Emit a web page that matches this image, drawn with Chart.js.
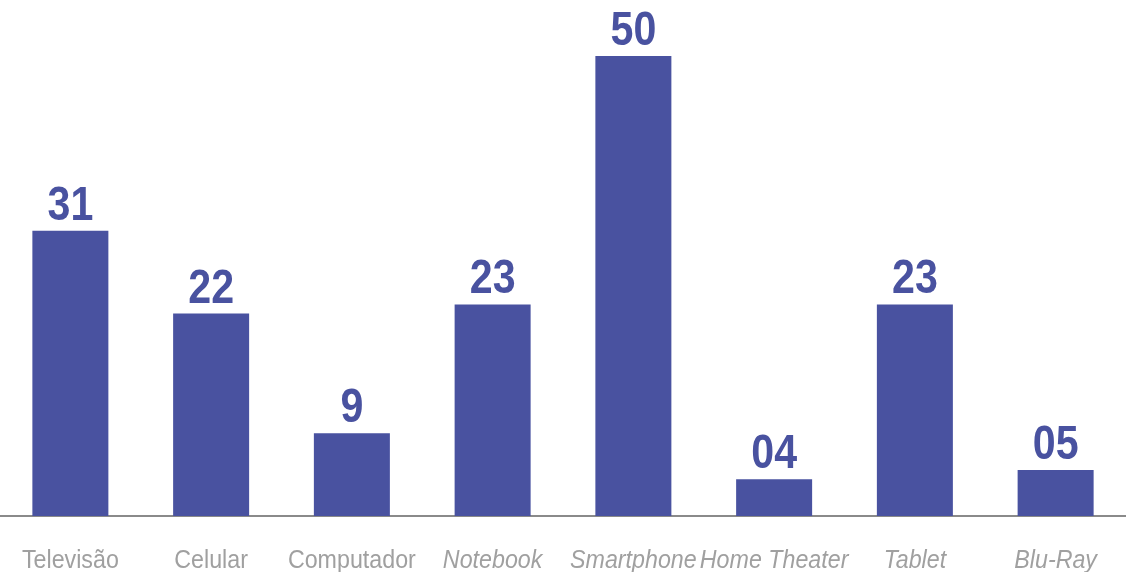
<!DOCTYPE html>
<html>
<head>
<meta charset="utf-8">
<script src="https://cdn.jsdelivr.net/npm/chart.js@4/dist/chart.umd.min.js"></script>
<style>
  html, body { margin: 0; padding: 0; background: #ffffff; }
  #wrap { width: 1126px; height: 572px; position: relative; }
</style>
</head>
<body>
<div id="wrap"><canvas id="chart"></canvas></div>
<script>
// Product categories and counts
const categories = ['Televisão', 'Celular', 'Computador', 'Notebook', 'Smartphone', 'Home Theater', 'Tablet', 'Blu-Ray'];
const values = [31, 22, 9, 23, 50, 4, 23, 5];
const valueLabels = ['31', '22', '9', '23', '50', '04', '23', '05'];
// Categories whose axis label is set in italics
const italicCategories = ['Notebook', 'Smartphone', 'Home Theater', 'Tablet', 'Blu-Ray'];

const barColor = '#4952a0';
const baseFont = '"Liberation Sans", Arial, sans-serif';

// Draws text squeezed horizontally to give a condensed face
function drawCondensed(ctx, text, x, y, squeeze) {
  ctx.save();
  ctx.translate(x, y);
  ctx.scale(squeeze, 1);
  ctx.fillText(text, 0, 0);
  ctx.restore();
}

// Value text above each bar and category names under the axis
const labelPlugin = {
  id: 'condensedLabels',
  afterDatasetsDraw(chart) {
    const ctx = chart.ctx;
    const meta = chart.getDatasetMeta(0);
    const xScale = chart.scales.x;
    ctx.save();
    ctx.textAlign = 'center';

    ctx.fillStyle = barColor;
    ctx.font = 'bold 49px ' + baseFont;
    ctx.textBaseline = 'alphabetic';
    meta.data.forEach((bar, i) => {
      drawCondensed(ctx, valueLabels[i], bar.x, bar.y - 11, 0.84);
    });

    ctx.fillStyle = '#a0a0a0';
    categories.forEach((name, i) => {
      const style = italicCategories.includes(name) ? 'italic ' : '';
      ctx.font = style + '25px ' + baseFont;
      drawCondensed(ctx, name, xScale.getPixelForValue(i), chart.chartArea.bottom + 52, 0.93);
    });
    ctx.restore();
  }
};

new Chart(document.getElementById('chart'), {
  type: 'bar',
  data: {
    labels: categories,
    datasets: [{
      data: values,
      backgroundColor: barColor,
      borderWidth: 0,
      barPercentage: 0.54,
      categoryPercentage: 1.0
    }]
  },
  options: {
    responsive: true,
    maintainAspectRatio: false,
    animation: false,
    layout: { padding: { left: 0, right: 0, top: 10, bottom: 56 } },
    plugins: {
      legend: { display: false },
      tooltip: { enabled: false }
    },
    scales: {
      x: {
        grid: { display: true, drawOnChartArea: false, drawTicks: false },
        border: { display: true, color: '#8a8a8a', width: 2 },
        ticks: { display: false }
      },
      y: {
        display: false,
        min: 0,
        max: 55
      }
    }
  },
  plugins: [labelPlugin]
});
</script>
</body>
</html>
